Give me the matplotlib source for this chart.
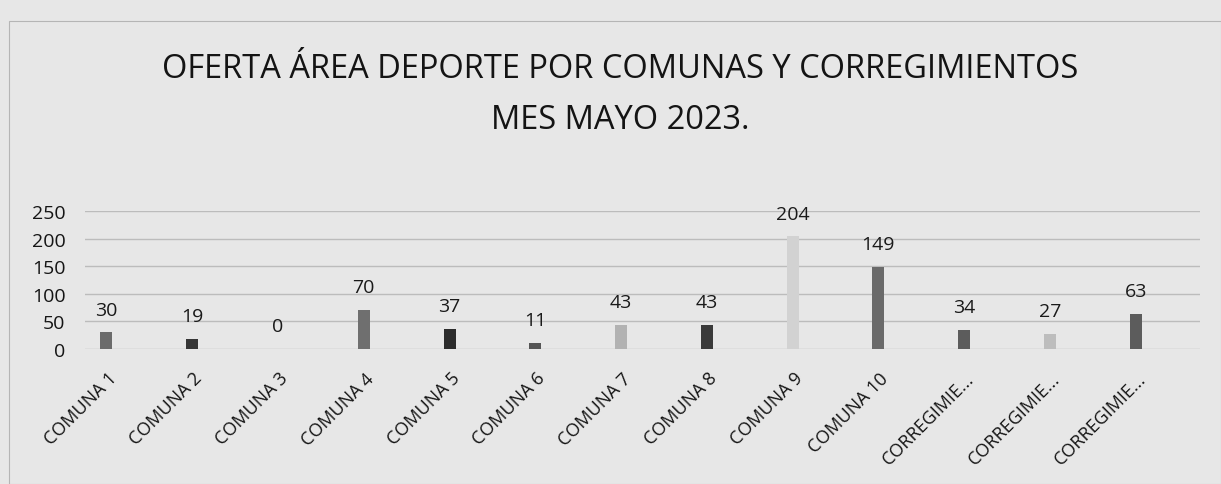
import matplotlib
matplotlib.use("Agg")
import matplotlib.pyplot as plt
import matplotlib.transforms as mtrans
from matplotlib.patches import Rectangle

categories = ["COMUNA 1", "COMUNA 2", "COMUNA 3", "COMUNA 4", "COMUNA 5", "COMUNA 6",
              "COMUNA 7", "COMUNA 8", "COMUNA 9", "COMUNA 10",
              "CORREGIMIE...", "CORREGIMIE...", "CORREGIMIE..."]
values = [30, 19, 0, 70, 37, 11, 43, 43, 204, 149, 34, 27, 63]
bar_colors = ["#6b6b6b", "#363636", "#555555", "#6f6f6f", "#2c2c2c", "#555555",
              "#b2b2b2", "#3a3a3a", "#d2d2d2", "#6a6a6a", "#5c5c5c", "#bdbdbd", "#5c5c5c"]
yticks = [0, 50, 100, 150, 200, 250]
title = "OFERTA ÁREA DEPORTE POR COMUNAS Y CORREGIMIENTOS\nMES MAYO 2023."

plt.rcParams['font.family'] = ['Open Sans', 'DejaVu Sans']
bg = "#e7e7e7"
fig = plt.figure(figsize=(12.21, 4.85), dpi=100, facecolor=bg)

# chart border
fig.patches.append(Rectangle((9/1221, 0), 1 - 9/1221, 1 - 22/485, transform=fig.transFigure,
                             fill=False, edgecolor="#b5b5b5", linewidth=0.8))

ax = fig.add_axes([85/1221, (485-350)/485, (1200-85)/1221, (350-212)/485])
ax.set_facecolor(bg)
x = list(range(len(categories)))
ax.bar(x, values, width=0.14, color=bar_colors, zorder=3)
ax.set_ylim(0, 250)
ax.set_xlim(-0.25, len(categories) - 0.25)
ax.set_yticks(yticks)
ax.yaxis.grid(True, color="#bcbcbc", linewidth=1.0, zorder=0)
for s in ax.spines.values():
    s.set_visible(False)
ax.tick_params(axis='both', length=0)
ax.tick_params(axis='y', labelsize=14, colors="#151515", pad=14)
ax.set_xticks(x)
ax.set_xticklabels(categories, rotation=45, ha='right', rotation_mode='anchor',
                   fontsize=13, color="#151515")
offset = mtrans.ScaledTranslation(1/100, -15/100, fig.dpi_scale_trans)
for lbl in ax.get_xticklabels():
    lbl.set_transform(lbl.get_transform() + offset)

for xi, v in zip(x, values):
    ax.annotate(str(v), (xi, v), xytext=(0, 10), textcoords='offset points',
                ha='center', va='bottom', fontsize=14, color="#1a1a1a")

fig.text(620/1221, 1 - 95/485, title, ha='center', va='center', fontsize=23.5,
         color="#141414", linespacing=1.75)

fig.savefig("out.png", dpi=100, facecolor=bg)
